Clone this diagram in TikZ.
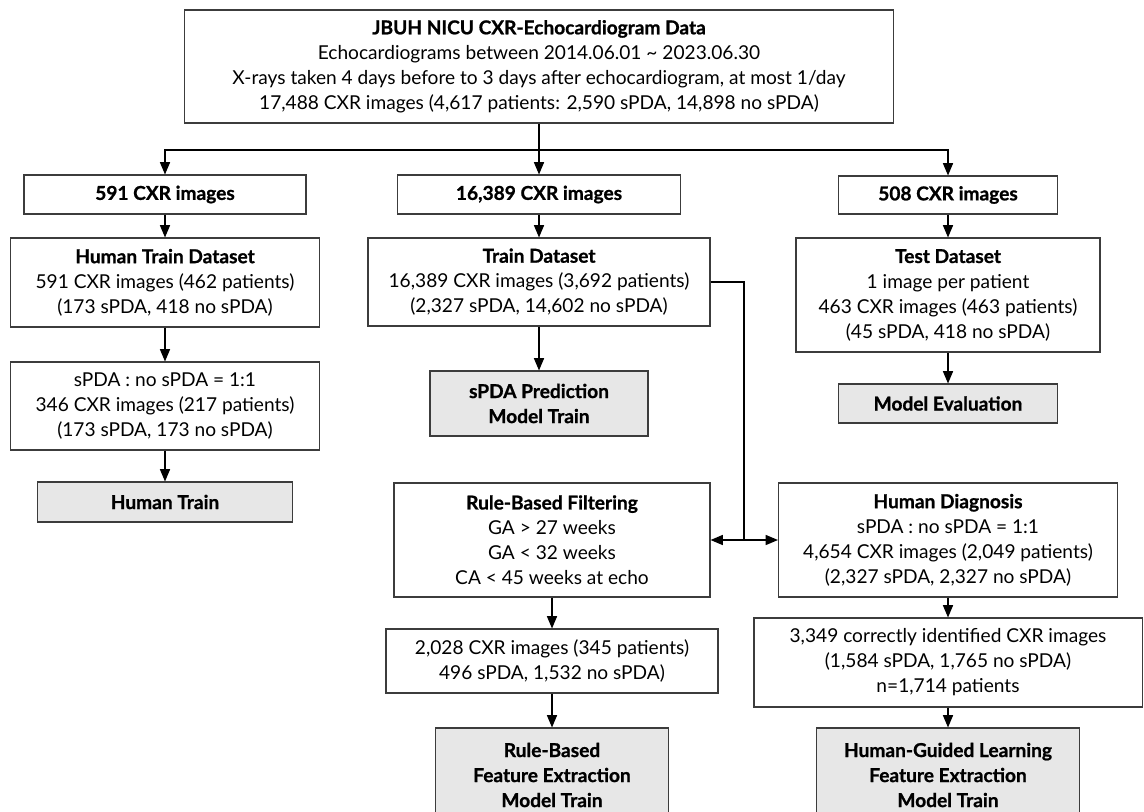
\documentclass[tikz,border=0pt]{standalone}
\usepackage{fontspec}
\setmainfont{Lato}[BoldFeatures={FakeBold=1}]
\usepackage{tikz}
\usetikzlibrary{arrows,calc,positioning}
\tikzset{
  >=triangle 45
}
\definecolor{boxgray}{RGB}{231,231,231}
\definecolor{edge}{RGB}{60,60,60}

\begin{document}
\begin{tikzpicture}[x=0.025cm,y=-0.025cm,
  box/.style={draw=edge,line width=0.8pt,align=center,inner sep=2pt,font=\fontsize{13.6}{17.8}\selectfont},
  goal/.style={box,fill=boxgray,font=\fontsize{13.6}{17.8}\selectfont\bfseries},
  flow/.style={->,line width=1pt}]
        \useasboundingbox (0,0) rectangle (1144,811);
        \clip (0,0) rectangle (1144,811);

        \node (T0) at (539,66.5) [box,minimum width=17.7cm,minimum height=2.825cm] {\textbf{JBUH NICU CXR-Echocardiogram Data}\\ Echocardiograms between 2014.06.01 \textasciitilde{} 2023.06.30\\ X-rays taken 4 days before to 3 days after echocardiogram, at most 1/day\\ 17,488 CXR images (4,617 patients: 2,590 sPDA, 14,898 no sPDA)};
        \coordinate (B) at (539,150);

        \node (L1) at (165,194.5) [box,minimum width=7.05cm,minimum height=0.975cm] {\textbf{591 CXR images}};
        \node (L2) at (165,282.5) [box,minimum width=7.725cm,minimum height=2.225cm] {\textbf{Human Train Dataset}\\ 591 CXR images (462 patients)\\ (173 sPDA, 418 no sPDA)};
        \node (L3) at (165,406) [box,minimum width=7.725cm,minimum height=2.2cm] {sPDA : no sPDA = 1:1\\ 346 CXR images (217 patients)\\ (173 sPDA, 173 no sPDA)};
        \node (L4) at (165,502) [goal,minimum width=6.375cm,minimum height=1cm] {Human Train};

        \node (M1) at (539,194.5) [box,minimum width=7.075cm,minimum height=0.975cm] {\textbf{16,389 CXR images}};
        \node (M2) at (539,282) [box,minimum width=8.55cm,minimum height=2.2cm] {\textbf{Train Dataset}\\ 16,389 CXR images (3,692 patients)\\ (2,327 sPDA, 14,602 no sPDA)};
        \node (M3) at (539,403.5) [goal,minimum width=5.45cm,minimum height=1.625cm] {sPDA Prediction\\ Model Train};

        \node (R1) at (948,195) [box,minimum width=5.475cm,minimum height=0.95cm] {\textbf{508 CXR images}};
        \node (R2) at (948,295) [box,minimum width=7.6cm,minimum height=2.85cm] {\textbf{Test Dataset}\\ 1 image per patient\\ 463 CXR images (463 patients)\\ (45 sPDA, 418 no sPDA)};
        \node (R3) at (948,403.5) [goal,minimum width=5.475cm,minimum height=0.975cm] {Model Evaluation};

        \node (F1) at (552,540) [box,minimum width=7.9cm,minimum height=2.85cm] {\textbf{Rule-Based Filtering}\\ GA > 27 weeks\\ GA < 32 weeks\\ CA < 45 weeks at echo};
        \node (F2) at (552,661) [box,minimum width=8.3cm,minimum height=1.6cm] {2,028 CXR images (345 patients)\\ 496 sPDA, 1,532 no sPDA)};
        \node (F3) at (552,775) [goal,minimum width=5.825cm,minimum height=2.35cm] {Rule-Based\\ Feature Extraction\\ Model Train};

        \node (H1) at (948,540) [box,minimum width=8.475cm,minimum height=2.85cm] {\textbf{Human Diagnosis}\\ sPDA : no sPDA = 1:1\\ 4,654 CXR images (2,049 patients)\\ (2,327 sPDA, 2,327 no sPDA)};
        \node (H2) at (948,662.5) [box,minimum width=9.7cm,minimum height=2.225cm] {3,349 correctly identified CXR images\\ (1,584 sPDA, 1,765 no sPDA)\\ n=1,714 patients};
        \node (H3) at (948,775) [goal,minimum width=6.575cm,minimum height=2.35cm] {Human-Guided Learning\\ Feature Extraction\\ Model Train};
        \coordinate (J) at (744,540);

        \draw[flow] (T0.south) -- (T0.south |- M1.north);
        \draw[flow] (B) -| (L1.north);
        \draw[flow] (B) -| (R1.north);

        \draw[flow] (L1) -- (L2);
        \draw[flow] (L2) -- (L3);
        \draw[flow] (L3) -- (L4);

        \draw[flow] (M1) -- (M2);
        \draw[flow] (M2) -- (M3);
        \draw[line width=1pt] (M2.east) -| (J);
        \draw[flow] (J) -- (F1.east);
        \draw[flow] (J) -- (H1.west);

        \draw[flow] (R1) -- (R2);
        \draw[flow] (R2) -- (R3);

        \draw[flow] (F1) -- (F2);
        \draw[flow] (F2) -- (F3);
        \draw[flow] (H1) -- (H2);
        \draw[flow] (H2) -- (H3);
    \end{tikzpicture}
\end{document}
